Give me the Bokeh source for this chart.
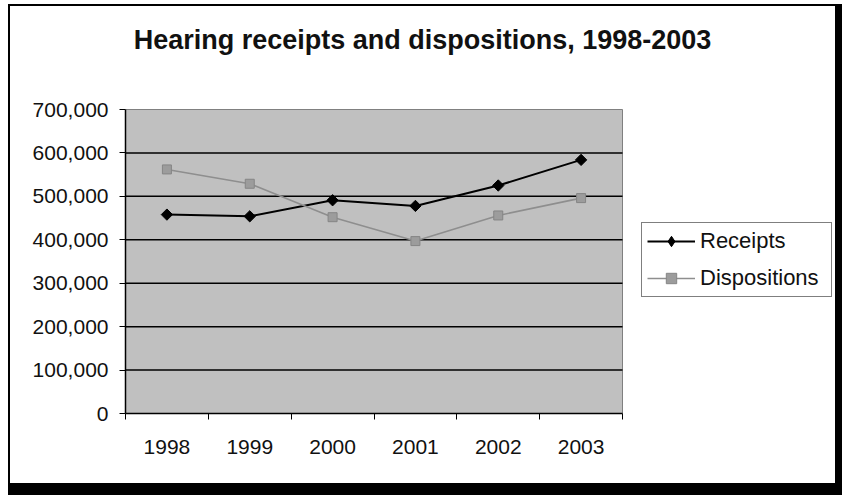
from bokeh.plotting import figure
from bokeh.models import (FixedTicker, NumeralTickFormatter, Range1d, Legend,
                          LegendItem, Label)
from bokeh.embed import file_html
from bokeh.resources import INLINE

years = ["1998", "1999", "2000", "2001", "2002", "2003"]
receipts = [458000, 454000, 491000, 478000, 525000, 584000]
dispositions = [562000, 529000, 452000, 397000, 456000, 496000]
y_ticks = [0, 100000, 200000, 300000, 400000, 500000, 600000, 700000]
title_text = "Hearing receipts and dispositions, 1998-2003"

FONT = "Liberation Sans"

# layout geometry (pixels)
FIG_W, FIG_H = 825, 477
LEFT, BOTTOM = 115, 70
PLOT_W, PLOT_H = 497, 304
frame_w = FIG_W - LEFT
frame_h = FIG_H - BOTTOM

n = len(years)
y_max = y_ticks[-1]
xs = [i + 0.5 for i in range(n)]
bounds = list(range(n + 1))

p = figure(width=FIG_W, height=FIG_H, output_backend="svg", toolbar_location=None,
           x_range=Range1d(0, n * frame_w / PLOT_W),
           y_range=Range1d(0, y_max * frame_h / PLOT_H),
           min_border_left=LEFT, min_border_right=0, min_border_top=0,
           min_border_bottom=BOTTOM)
# black frame around the chart, drawn with shadows so the size is unchanged
p.styles = {"margin-left": "10px", "margin-top": "6px",
            "box-shadow": ("0 0 0 2px black, 5px 10px 0 2px black, "
                           "5px 0 0 2px black, 0 10px 0 2px black")}
p.background_fill_color = "white"
p.border_fill_color = "white"
p.outline_line_color = None
p.xgrid.grid_line_color = None
p.ygrid.grid_line_color = None

# plotting area
p.quad(left=[0], right=[n], bottom=[0], top=[y_max],
       fill_color="#c0c0c0", line_color="#808080", line_width=1)
p.segment(x0=[0] * (len(y_ticks) - 2), x1=[n] * (len(y_ticks) - 2),
          y0=y_ticks[1:-1], y1=y_ticks[1:-1], line_color="black", line_width=1.5)

# x axis: ticks at category boundaries, labels at centers
p.xaxis.bounds = (0, n)
p.xaxis.ticker = FixedTicker(ticks=xs, minor_ticks=bounds)
p.xaxis.major_label_overrides = {x: y for x, y in zip(xs, years)}
p.xaxis.major_tick_out = 0
p.xaxis.major_tick_in = 0
p.xaxis.minor_tick_out = 6
p.xaxis.minor_tick_in = 0
p.xaxis.minor_tick_line_color = "black"
p.xaxis.axis_line_color = "black"
p.xaxis.axis_line_width = 1.5
p.xaxis.major_label_standoff = 20
p.xaxis.major_label_text_font = FONT
p.xaxis.major_label_text_font_size = "21px"
p.xaxis.major_label_text_color = "#111111"

p.yaxis.bounds = (0, y_max)
p.yaxis.ticker = FixedTicker(ticks=y_ticks)
p.yaxis.formatter = NumeralTickFormatter(format="0,0")
p.yaxis.major_tick_out = 6
p.yaxis.major_tick_in = 0
p.yaxis.minor_tick_line_color = None
p.yaxis.axis_line_color = "black"
p.yaxis.axis_line_width = 1.5
p.yaxis.major_tick_line_color = "black"
p.yaxis.major_label_standoff = 11
p.yaxis.major_label_text_font = FONT
p.yaxis.major_label_text_font_size = "21px"
p.yaxis.major_label_text_color = "#111111"

r_line = p.line(xs, receipts, line_color="black", line_width=2)
r_mark = p.scatter(xs, receipts, marker="square", angle=0.785398, size=8,
                   fill_color="black", line_color="black")
d_line = p.line(xs, dispositions, line_color="#8e8e8e", line_width=1.6)
d_mark = p.scatter(xs, dispositions, marker="square", size=9,
                   fill_color="#9c9c9c", line_color="#858585")
# hidden copy of the receipts markers, used only for the legend symbol
r_key = p.scatter(xs, receipts, marker="diamond", size=12,
                  fill_color="black", line_color="black", visible=False)

legend = Legend(items=[LegendItem(label="Receipts", renderers=[r_line, r_key]),
                       LegendItem(label="Dispositions", renderers=[d_line, d_mark])],
                location=(PLOT_W + 19, 116), orientation="vertical")
legend.label_text_font = FONT
legend.label_text_font_size = "22px"
legend.label_text_color = "#111111"
legend.glyph_width = 48
legend.glyph_height = 26
legend.label_height = 26
legend.label_width = 126
legend.label_standoff = 5
legend.padding = 5
legend.spacing = 11
legend.margin = 0
legend.border_line_color = "black"
legend.border_line_width = 1
legend.background_fill_color = "white"
legend.background_fill_alpha = 1
legend.inactive_fill_alpha = 0
p.add_layout(legend, "center")

title = Label(x=297, y=374, x_units="screen", y_units="screen", text=title_text,
              text_align="center", text_baseline="alphabetic",
              text_font=FONT, text_font_size="27px", text_font_style="bold",
              text_color="#111111")
p.add_layout(title)

open("out.html", "w").write(file_html(p, INLINE))
